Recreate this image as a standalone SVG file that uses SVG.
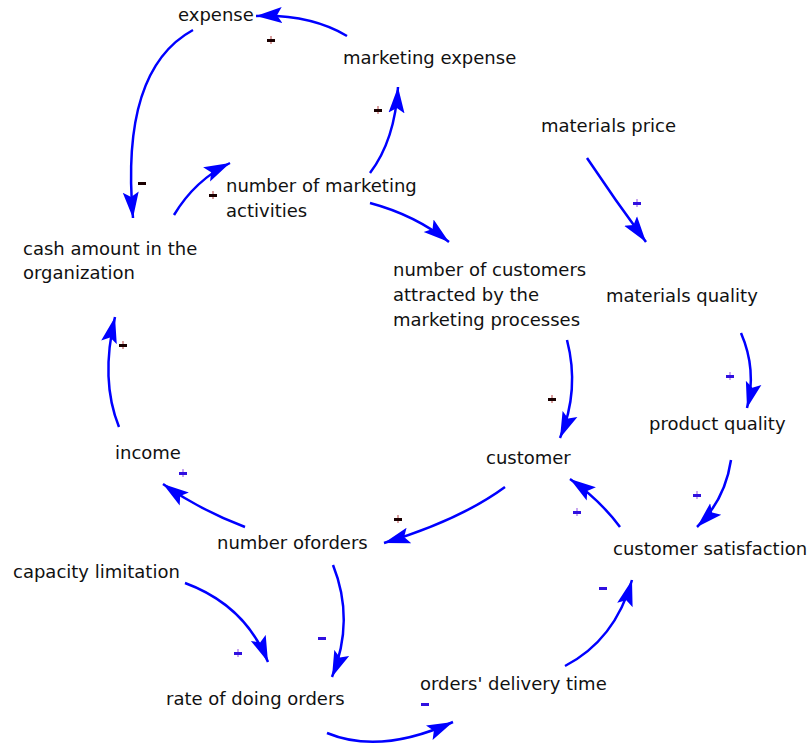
<svg xmlns="http://www.w3.org/2000/svg" width="812" height="748" viewBox="0 0 812 748">
<style>
.t{font-family:"DejaVu Sans","Liberation Sans",sans-serif;font-size:18px;fill:#111111}
.c{fill:none;stroke:#0000ff;stroke-width:2.5;marker-end:url(#ah)}
.sh{fill:#1a0000}
.sv{fill:#d9a0a0}
.ph{fill:#3010e0}
.pv{fill:#c8a8f0}
</style>
<defs>
<marker id="ah" markerUnits="userSpaceOnUse" markerWidth="28" markerHeight="18" refX="26" refY="9" orient="auto" viewBox="0 0 28 18">
<path d="M0,1 L26,9 L0,17 L5,9 Z" fill="#0000ff"/>
</marker>
</defs>
<rect width="812" height="748" fill="#ffffff"/>
<g id="connectors">
<path class="c" d="M347,36 Q310,14 256,16"/>
<path class="c" d="M193,30 Q120,70 133,218"/>
<path class="c" d="M370,173 Q395,140 398,87"/>
<path class="c" d="M174,215 Q195,180 230,163"/>
<path class="c" d="M370,203 Q415,215 449,242"/>
<path class="c" d="M587,158 Q615,200 646,242"/>
<path class="c" d="M741,333 Q757,370 747,408"/>
<path class="c" d="M731,460 Q725,500 697,527"/>
<path class="c" d="M620,527 Q600,500 570,479"/>
<path class="c" d="M567,340 Q580,390 560,438"/>
<path class="c" d="M505,487 Q460,520 384,543"/>
<path class="c" d="M245,527 Q200,510 163,484"/>
<path class="c" d="M119,427 Q100,380 115,317"/>
<path class="c" d="M333,565 Q355,620 332,677"/>
<path class="c" d="M185,583 Q245,605 268,662"/>
<path class="c" d="M327,733 Q380,755 453,722"/>
<path class="c" d="M565,666 Q615,640 632,580"/>
</g>
<g id="polarities">
<rect class="sv" x="270" y="36" width="2" height="8"/><rect class="sh" x="267" y="39" width="8" height="3"/>
<rect class="sv" x="377" y="106" width="2" height="8"/><rect class="sh" x="374" y="109" width="8" height="3"/>
<rect class="sv" x="212" y="191" width="2" height="8"/><rect class="sh" x="209" y="194" width="8" height="3"/>
<rect class="sh" x="138" y="182" width="8" height="3"/>
<rect class="sv" x="122" y="341" width="2" height="8"/><rect class="sh" x="119" y="344" width="8" height="3"/>
<rect class="sv" x="397" y="515" width="2" height="8"/><rect class="sh" x="394" y="518" width="8" height="3"/>
<rect class="sv" x="551" y="395" width="2" height="8"/><rect class="sh" x="548" y="398" width="8" height="3"/>
<rect class="pv" x="636" y="199" width="2" height="8"/><rect class="ph" x="633" y="202" width="8" height="3"/>
<rect class="pv" x="729" y="372" width="2" height="8"/><rect class="ph" x="726" y="375" width="8" height="3"/>
<rect class="pv" x="696" y="491" width="2" height="8"/><rect class="ph" x="693" y="494" width="8" height="3"/>
<rect class="pv" x="576" y="508" width="2" height="8"/><rect class="ph" x="573" y="511" width="8" height="3"/>
<rect class="pv" x="182" y="469" width="2" height="8"/><rect class="ph" x="179" y="472" width="8" height="3"/>
<rect class="pv" x="237" y="649" width="2" height="8"/><rect class="ph" x="234" y="652" width="8" height="3"/>
<rect class="ph" x="318" y="637" width="8" height="3"/>
<rect class="ph" x="421" y="703" width="8" height="3"/>
<rect class="ph" x="599" y="587" width="8" height="3"/>
</g>
<g id="n-expense"><text class="t" x="178" y="21">expense</text></g>
<g id="n-marketing-expense"><text class="t" x="343" y="64">marketing expense</text></g>
<g id="n-materials-price"><text class="t" x="541" y="132">materials price</text></g>
<g id="n-marketing-activities"><text class="t" x="226" y="192">number of marketing</text><text class="t" x="226" y="217">activities</text></g>
<g id="n-cash"><text class="t" x="23" y="255">cash amount in the</text><text class="t" x="23" y="279">organization</text></g>
<g id="n-attracted"><text class="t" x="393" y="276">number of customers</text><text class="t" x="393" y="301">attracted by the</text><text class="t" x="393" y="326">marketing processes</text></g>
<g id="n-materials-quality"><text class="t" x="606" y="302">materials quality</text></g>
<g id="n-product-quality"><text class="t" x="649" y="430">product quality</text></g>
<g id="n-customer"><text class="t" x="486" y="464">customer</text></g>
<g id="n-income"><text class="t" x="115" y="459">income</text></g>
<g id="n-satisfaction"><text class="t" x="613" y="555">customer satisfaction</text></g>
<g id="n-orders"><text class="t" x="217" y="549">number oforders</text></g>
<g id="n-capacity"><text class="t" x="13" y="578">capacity limitation</text></g>
<g id="n-rate"><text class="t" x="166" y="705">rate of doing orders</text></g>
<g id="n-delivery"><text class="t" x="420" y="690">orders' delivery time</text></g>
</svg>
